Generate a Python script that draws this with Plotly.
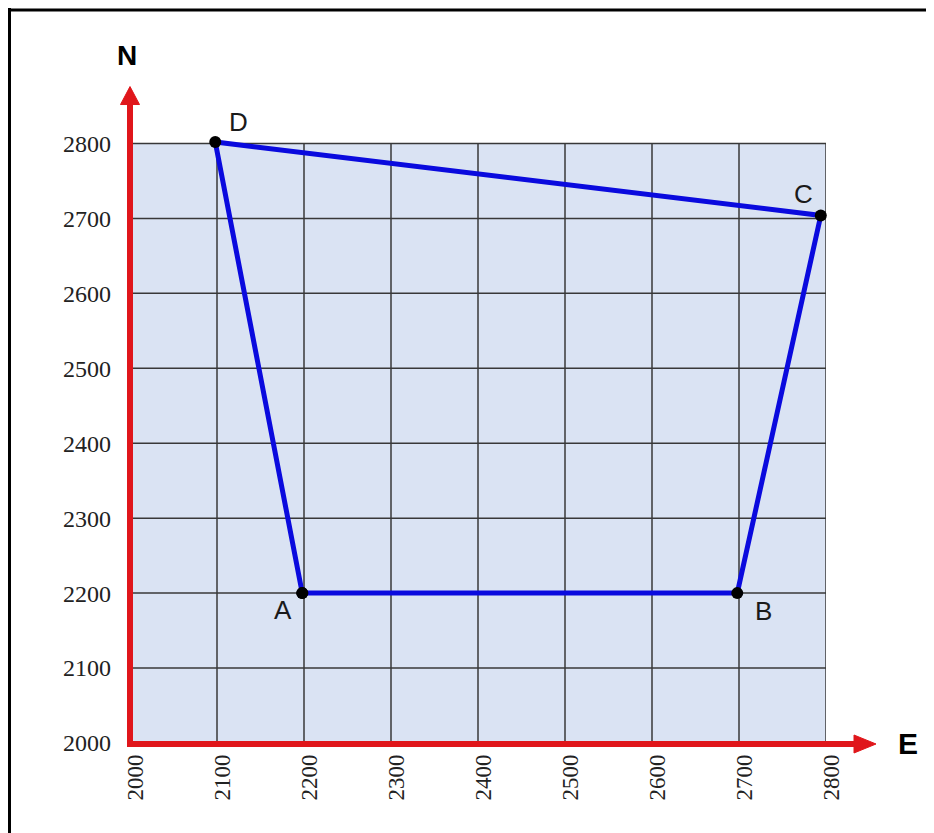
import plotly.graph_objects as go

# ---- data ----
point_names = ["A", "B", "C", "D"]
east = [2198, 2698, 2794, 2098]
north = [2200, 2200, 2704, 2802]
tick_values = [2000, 2100, 2200, 2300, 2400, 2500, 2600, 2700, 2800]
tick_labels = [str(v) for v in tick_values]
axis_names = ["E", "N"]

# ---- layout geometry ----
OFF = 8                      # page body margin
W, H = 934 - OFF, 833 - OFF
X_RANGE = [2000, 2800]
Y_RANGE = [2000, 2806]
# screen px of plot area
S_L, S_R = 130, 826
S_B = 743
S_T = S_B - (Y_RANGE[1] - Y_RANGE[0]) * 0.75
L, R, T, B = S_L - OFF, S_R - OFF, S_T - OFF, S_B - OFF


def px(sx):
    return (sx - OFF - L) / (R - L)


def py(sy):
    return (B - (sy - OFF)) / (B - T)


RED = "#E0161B"
BLUE = "#0A0ADE"
GRID = "#383838"
SERIF = "'Liberation Serif', 'DejaVu Serif', serif"
SANS = "Arial, Liberation Sans, sans-serif"

fig = go.Figure()
fig.add_trace(go.Scatter(
    x=east + [east[0]], y=north + [north[0]],
    mode="lines+markers",
    line=dict(color=BLUE, width=5),
    marker=dict(color="black", size=12),
    cliponaxis=False, hoverinfo="skip", showlegend=False,
))

# point labels
offsets = {"A": (-19, -17), "B": (26, -18), "C": (-17, 21), "D": (23, 20)}
annotations = []
for n, xv, yv in zip(point_names, east, north):
    dx, dy = offsets[n]
    annotations.append(dict(x=xv, y=yv, xref="x", yref="y", text=n, showarrow=False,
                            xshift=dx, yshift=dy, xanchor="center", yanchor="middle",
                            font=dict(family=SANS, size=26, color="#1a1a1a")))
# axis names
annotations.append(dict(x=px(908), y=py(744), xref="paper", yref="paper", text="<b>" + axis_names[0] + "</b>",
                        showarrow=False, xanchor="center", yanchor="middle",
                        font=dict(family=SANS, size=30, color="black")))
annotations.append(dict(x=px(127), y=py(55), xref="paper", yref="paper", text="<b>" + axis_names[1] + "</b>",
                        showarrow=False, xanchor="center", yanchor="middle",
                        font=dict(family=SANS, size=28, color="black")))

shapes = []
# plot background (only the 2000-2800 square)
shapes.append(dict(type="rect", xref="x", yref="y", x0=tick_values[0], x1=tick_values[-1],
                   y0=tick_values[0], y1=tick_values[-1], fillcolor="#DAE3F3",
                   line=dict(width=0), layer="below"))
# grid lines
for v in tick_values:
    shapes.append(dict(type="line", xref="x", yref="y", x0=v, x1=v, y0=tick_values[0], y1=tick_values[-1],
                       line=dict(color=GRID, width=1.5), layer="below"))
    shapes.append(dict(type="line", xref="x", yref="y", y0=v, y1=v, x0=tick_values[0], x1=tick_values[-1],
                       line=dict(color=GRID, width=1.5), layer="below"))
# frame: top and left borders
shapes.append(dict(type="line", xref="paper", yref="paper", x0=px(-10), x1=px(944), y0=py(9.5), y1=py(9.5),
                   line=dict(color="black", width=3)))
shapes.append(dict(type="line", xref="paper", yref="paper", x0=px(9.5), x1=px(9.5), y0=py(-10), y1=py(850),
                   line=dict(color="black", width=3)))
# red axes
shapes.append(dict(type="line", xref="paper", yref="paper", x0=px(130), x1=px(130), y0=py(747), y1=py(100),
                   line=dict(color=RED, width=6), layer="above"))
shapes.append(dict(type="line", xref="paper", yref="paper", x0=px(127), x1=px(858), y0=py(744), y1=py(744),
                   line=dict(color=RED, width=6), layer="above"))
# arrowheads
shapes.append(dict(type="path", xref="paper", yref="paper",
                   path="M {} {} L {} {} L {} {} Z".format(px(120.5), py(104), px(130), py(86), px(139.5), py(104)),
                   fillcolor=RED, line=dict(color=RED, width=1), layer="above"))
shapes.append(dict(type="path", xref="paper", yref="paper",
                   path="M {} {} L {} {} L {} {} Z".format(px(854), py(735), px(876), py(744), px(854), py(753)),
                   fillcolor=RED, line=dict(color=RED, width=1), layer="above"))

axis_common = dict(
    tickmode="array", tickvals=tick_values, ticktext=tick_labels,
    showgrid=False, showline=False, zeroline=False, ticks="", fixedrange=True,
)

fig.update_layout(
    width=W, height=H,
    margin=dict(l=L, r=W - R, t=T, b=H - B, pad=0),
    paper_bgcolor="white", plot_bgcolor="rgba(0,0,0,0)",
    xaxis=dict(**axis_common, range=X_RANGE, tickangle=-90, ticklabelstandoff=6, ticklabelshift=6,
               tickfont=dict(family=SERIF, size=23, color="#222")),
    yaxis=dict(**axis_common, range=Y_RANGE, ticklabelstandoff=18,
               tickfont=dict(family=SERIF, size=24, color="#222")),
    annotations=annotations, shapes=shapes,
    showlegend=False,
)

fig.write_html("out.html")
